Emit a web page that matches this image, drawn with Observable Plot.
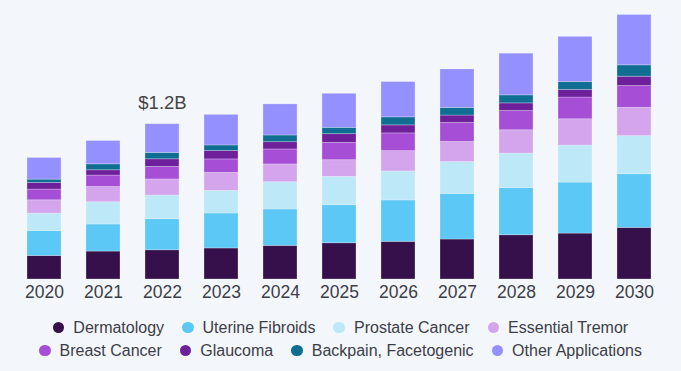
<!DOCTYPE html>
<html>
<head>
<meta charset="utf-8">
<script src="https://cdn.jsdelivr.net/npm/d3@7"></script>
<script src="https://cdn.jsdelivr.net/npm/@observablehq/plot@0.6"></script>
<style>
  html, body { margin: 0; padding: 0; background: #f3f7fb; }
  #chart { width: 681px; }
  .legend { width: 681px; display: flex; flex-wrap: wrap; justify-content: center; padding-top: 11px;
    font-family: "Liberation Sans", Arial, sans-serif; font-size: 16px; color: #3d3d48; }
  .legend .row { width: 100%; display: flex; justify-content: center; height: 23px; align-items: center; }
  .legend .item { display: flex; align-items: center; margin: 0 9px; }
  .legend .dot { width: 11.5px; height: 11.5px; border-radius: 50%; margin-right: 9px; }
</style>
</head>
<body>
<div id="chart"></div>
<script>
const years = ["2020","2021","2022","2023","2024","2025","2026","2027","2028","2029","2030"];
const segments = ["Dermatology","Uterine Fibroids","Prostate Cancer","Essential Tremor","Breast Cancer","Glaucoma","Backpain, Facetogenic","Other Applications"];
const colors = ["#36104a","#5bc8f5","#bde8f8","#d4a5ec","#a64fd6","#6e1f9a","#0f6e91","#9590ff"];
// values in USD million
const dermatology     = [182,216,226,240,260,280,291,309,342,355,399];
const uterineFibroids = [193,209,240,270,281,294,320,352,365,394,415];
const prostateCancer  = [134,172,183,175,211,219,224,247,266,286,294];
const essentialTremor = [103,118,124,139,137,129,157,155,180,203,219];
const breastCancer    = [83,88,97,104,116,134,137,147,149,168,168];
const glaucoma        = [51,41,59,66,56,67,62,57,59,59,72];
const backpain        = [26,46,49,42,52,49,62,59,62,60,88];
const otherApps       = [167,180,222,236,240,263,273,297,322,350,389];
const annotationYear = "2022";
const annotationText = "$1.2B";

const series = [dermatology, uterineFibroids, prostateCancer, essentialTremor, breastCancer, glaucoma, backpain, otherApps];
const rows = [];
years.forEach((y, i) => series.forEach((s, k) => rows.push({year: y, segment: segments[k], value: s[i]})));
const totals = years.map((y, i) => ({year: y, total: d3.sum(series, s => s[i])}));
const annot = totals.filter(d => d.year === annotationYear).map(d => ({...d, label: annotationText}));

const plot = Plot.plot({
  width: 681,
  height: 305,
  marginLeft: 0,
  marginRight: 4,
  marginTop: 0,
  marginBottom: 26,
  style: {background: "#f3f7fb", fontFamily: "'Liberation Sans', sans-serif"},
  x: {domain: years, paddingInner: 0.427, paddingOuter: 0.427, label: null, tickSize: 0, tickPadding: 6},
  y: {domain: [0, 2156], axis: null},
  color: {domain: segments, range: colors},
  marks: [
    Plot.barY(rows, {x: "year", y: "value", fill: "segment", order: segments, stroke: "#f3f7fb", strokeOpacity: 0.35, strokeWidth: 0.8}),
    Plot.text(annot, {x: "year", y: "total", text: "label", dy: -21, fontSize: 18.5, fill: "#444"}),
    Plot.axisX({tickSize: 0, tickPadding: 6, fontSize: 17.5, fill: "#3d3d48", label: null})
  ]
});
document.getElementById("chart").appendChild(plot);

// legend
const legend = document.createElement("div");
legend.className = "legend";
[[0,4],[4,8]].forEach(([a,b]) => {
  const row = document.createElement("div");
  row.className = "row";
  segments.slice(a,b).forEach((s, j) => {
    const item = document.createElement("div");
    item.className = "item";
    const dot = document.createElement("span");
    dot.className = "dot";
    dot.style.background = colors[a + j];
    const label = document.createElement("span");
    label.textContent = s;
    item.appendChild(dot); item.appendChild(label);
    row.appendChild(item);
  });
  legend.appendChild(row);
});
document.getElementById("chart").appendChild(legend);
</script>
</body>
</html>
